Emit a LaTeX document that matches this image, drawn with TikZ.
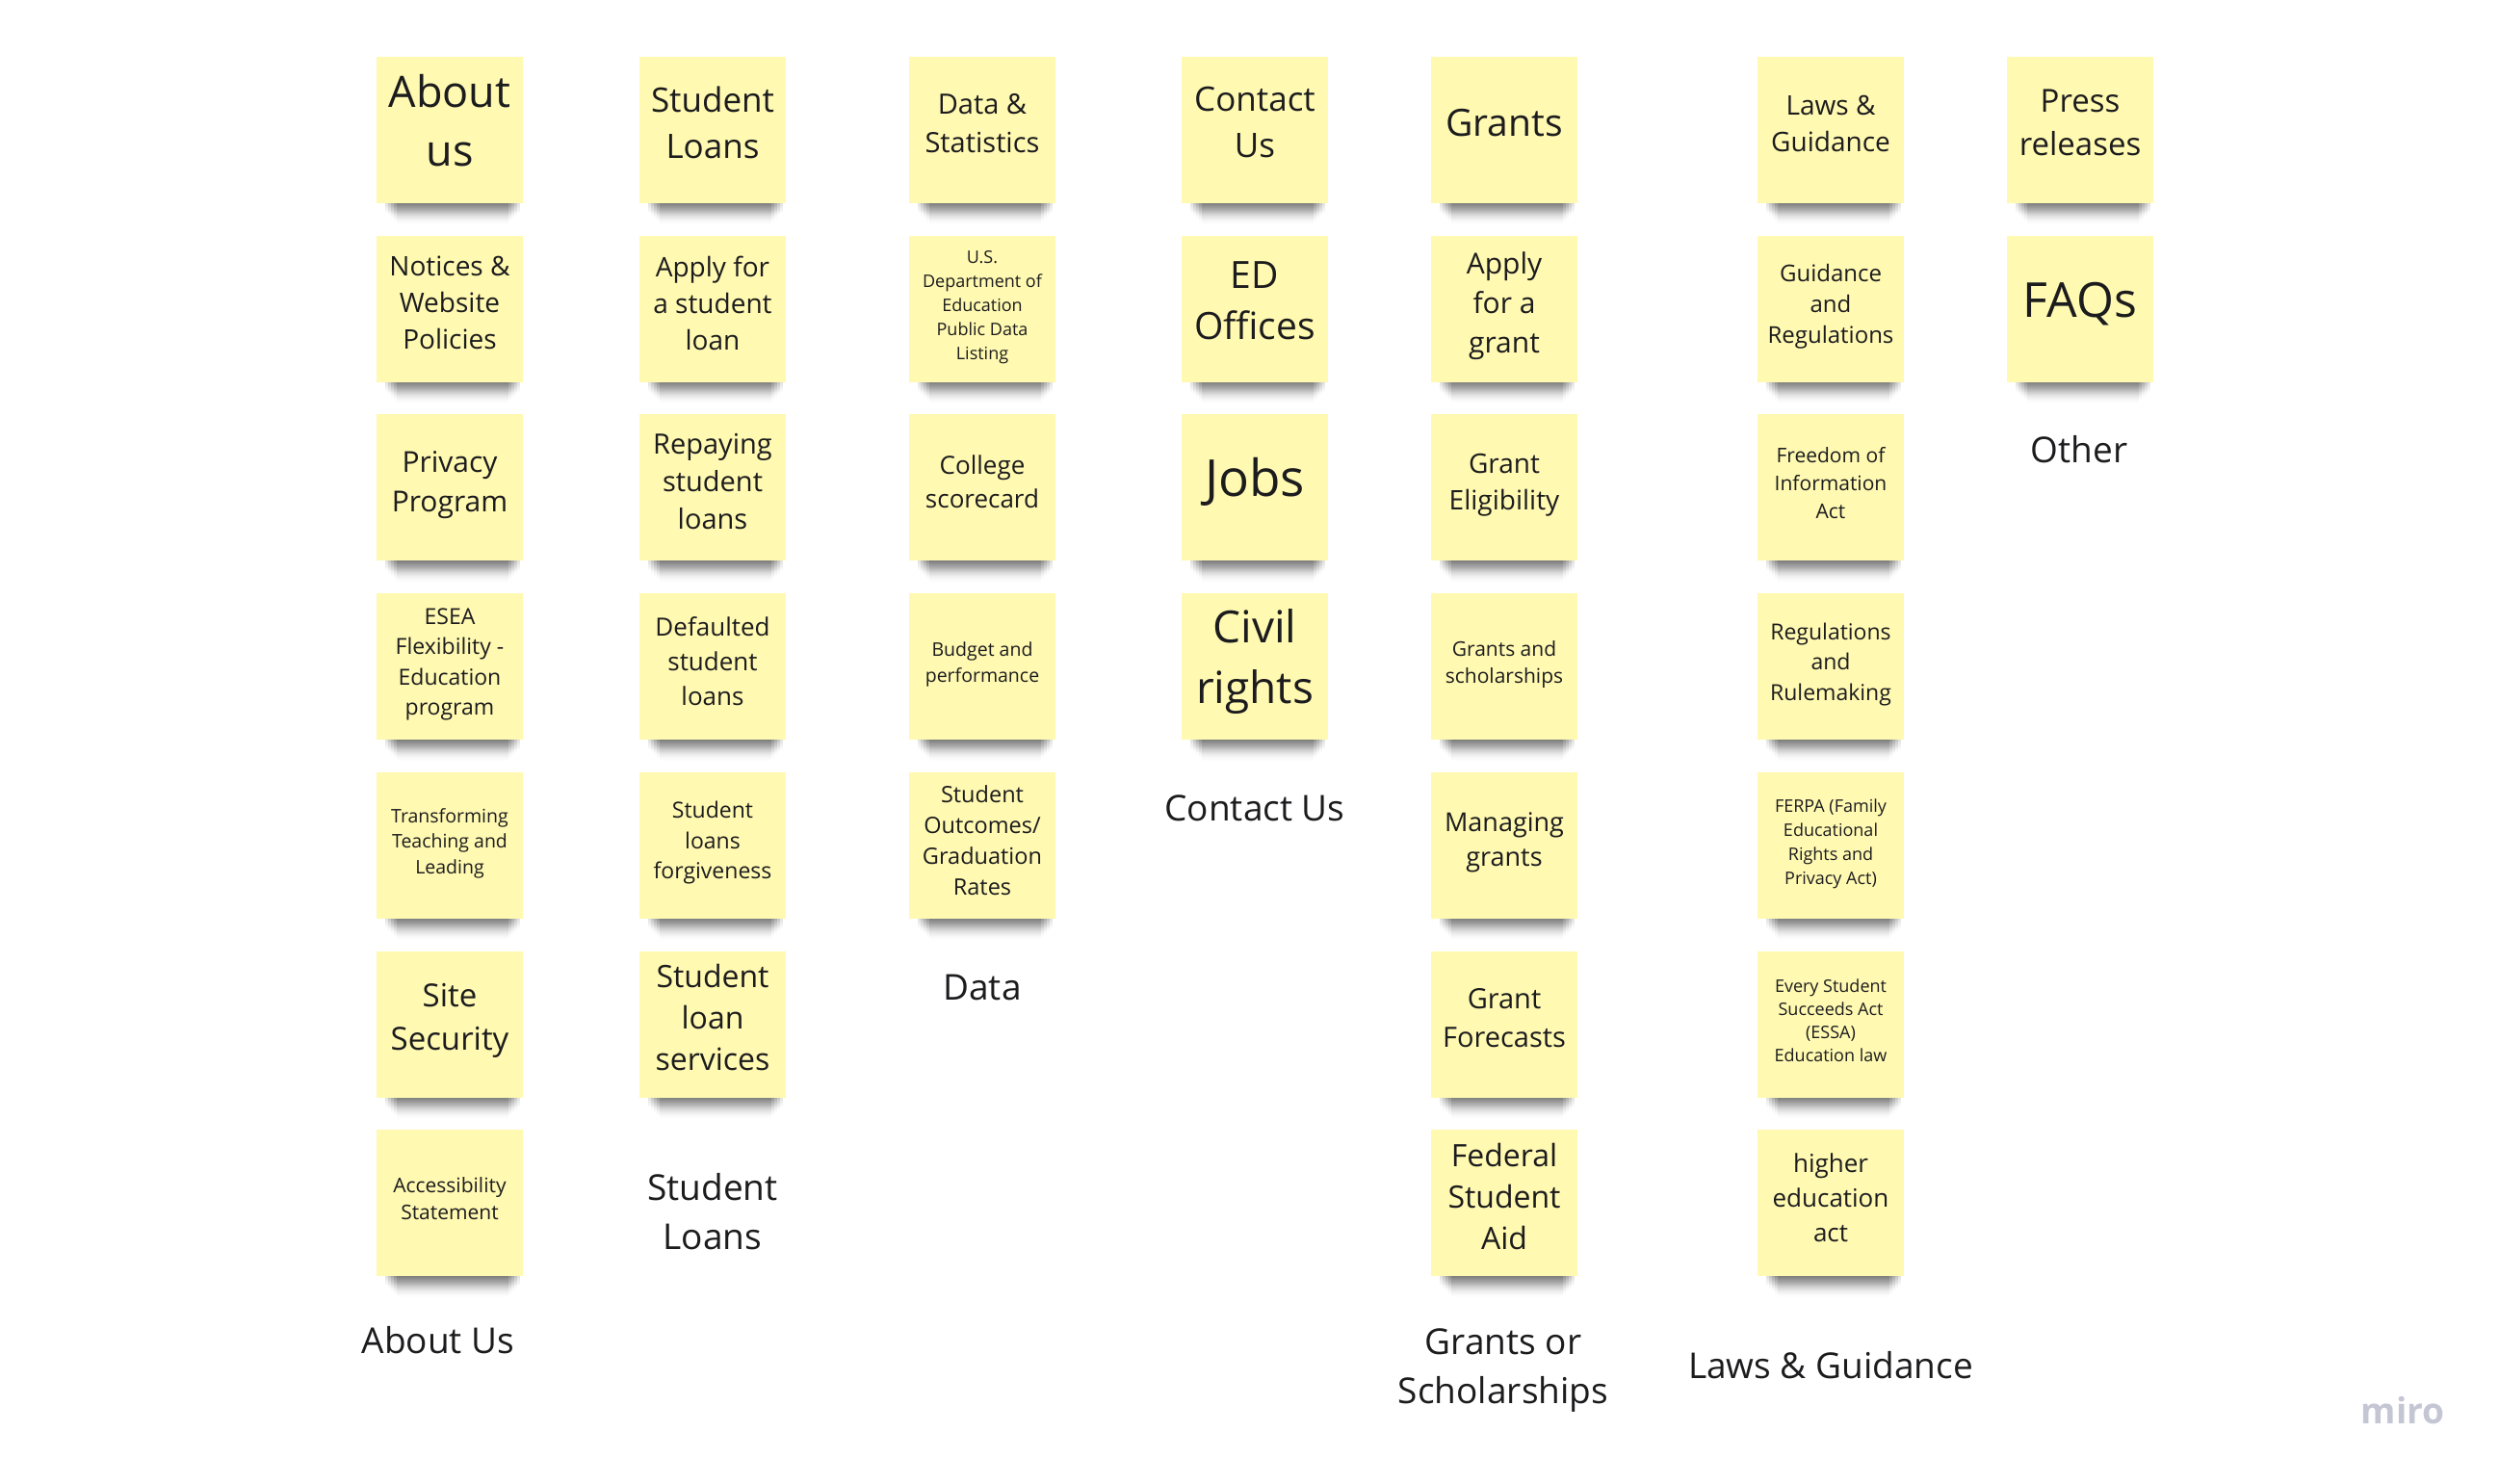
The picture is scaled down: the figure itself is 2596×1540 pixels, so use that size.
\documentclass[tikz,border=0pt]{standalone}
\usepackage{fontspec}
\setmainfont{Open Sans}
\usetikzlibrary{positioning, backgrounds, fadings}
\definecolor{stickyyellow}{RGB}{255, 249, 177}
\definecolor{stickytext}{RGB}{28, 28, 30}
\definecolor{mirogray}{RGB}{196, 198, 212}
\newcommand{\fsz}[2]{\fontsize{#1}{#2}\selectfont}
\tikzfading[name=shadowdown, top color=transparent!0, bottom color=transparent!100]
\tikzset{
  sticky/.style={fill=stickyyellow, text=stickytext, minimum width=152pt, minimum height=152pt, inner sep=0pt, align=center,
    execute at begin node={\rule{0pt}{0.8em}}, execute at end node={\rule[-0.45em]{0pt}{0pt}}},
  noteshadow/.style={fill=black, fill opacity=0.14, path fading=shadowdown},
  grouplabel/.style={text=stickytext, align=center, font=\fsz{37}{51}}
}

\begin{document}
\begin{tikzpicture}[x=1pt, y=-1pt]
  \path[use as bounding box] (0,0) rectangle (2596,1540);

  % About Us
  \node[sticky, font=\fsz{45}{61}] (about1) at (467,135) {About\\us};
  \node[sticky, font=\fsz{28}{38}, below=33.3pt of about1] (about2) {Notices \&\\Website\\Policies};
  \node[sticky, font=\fsz{30}{41}, below=33.3pt of about2] (about3) {Privacy\\Program};
  \node[sticky, font=\fsz{23}{31.5}, below=33.3pt of about3] (about4) {ESEA\\Flexibility -\\Education\\program};
  \node[sticky, font=\fsz{19.5}{26.5}, below=33.3pt of about4] (about5) {Transforming\\Teaching and\\Leading};
  \node[sticky, font=\fsz{33}{45}, below=33.3pt of about5] (about6) {Site\\Security};
  \node[sticky, font=\fsz{21}{28}, below=33.3pt of about6] (about7) {Accessibility\\Statement};
  \node[grouplabel] (aboutlabel) at (455,1392) {About Us};

  % Student Loans
  \node[sticky, font=\fsz{35}{48}] (loans1) at (740,135) {Student\\Loans};
  \node[sticky, font=\fsz{28}{38}, below=33.3pt of loans1] (loans2) {Apply for\\a student\\loan};
  \node[sticky, font=\fsz{29}{39}, below=33.3pt of loans2] (loans3) {Repaying\\student\\loans};
  \node[sticky, font=\fsz{26}{36}, below=33.3pt of loans3] (loans4) {Defaulted\\student\\loans};
  \node[sticky, font=\fsz{23}{31.5}, below=33.3pt of loans4] (loans5) {Student\\loans\\forgiveness};
  \node[sticky, font=\fsz{32}{43}, below=33.3pt of loans5] (loans6) {Student\\loan\\services};
  \node[grouplabel] (loanslabel) at (740,1258) {Student\\Loans};

  % Data
  \node[sticky, font=\fsz{29}{40}] (data1) at (1020,135) {Data \&\\Statistics};
  \node[sticky, font=\fsz{18}{25}, below=33.3pt of data1] (data2) {U.S.\\Department of\\Education\\Public Data\\Listing};
  \node[sticky, font=\fsz{26}{35}, below=33.3pt of data2] (data3) {College\\scorecard};
  \node[sticky, font=\fsz{19.5}{26.5}, below=33.3pt of data3] (data4) {Budget and\\performance};
  \node[sticky, font=\fsz{23.5}{32}, below=33.3pt of data4] (data5) {Student\\Outcomes/\\Graduation\\Rates};
  \node[grouplabel] (datalabel) at (1020,1025) {Data};

  % Contact Us
  \node[sticky, font=\fsz{35}{48}] (contact1) at (1303,135) {Contact\\Us};
  \node[sticky, font=\fsz{39}{53}, below=33.3pt of contact1] (contact2) {ED\\Offices};
  \node[sticky, font=\fsz{53}{70}, below=33.3pt of contact2] (contact3) {Jobs};
  \node[sticky, font=\fsz{46}{63}, below=33.3pt of contact3] (contact4) {Civil\\rights};
  \node[grouplabel] (contactlabel) at (1303,839) {Contact Us};

  % Grants or Scholarships
  \node[sticky, font=\fsz{39}{53}] (grants1) at (1562,135) {Grants};
  \node[sticky, font=\fsz{30}{41}, below=33.3pt of grants1] (grants2) {Apply\\for a\\grant};
  \node[sticky, font=\fsz{28}{38}, below=33.3pt of grants2] (grants3) {Grant\\Eligibility};
  \node[sticky, font=\fsz{21}{28}, below=33.3pt of grants3] (grants4) {Grants and\\scholarships};
  \node[sticky, font=\fsz{27}{36}, below=33.3pt of grants4] (grants5) {Managing\\grants};
  \node[sticky, font=\fsz{29}{40}, below=33.3pt of grants5] (grants6) {Grant\\Forecasts};
  \node[sticky, font=\fsz{32}{43}, below=33.3pt of grants6] (grants7) {Federal\\Student\\Aid};
  \node[grouplabel] (grantslabel) at (1561,1423) {Grants or\\Scholarships};

  % Laws & Guidance
  \node[sticky, font=\fsz{28}{38}] (laws1) at (1901,135) {Laws \&\\Guidance};
  \node[sticky, font=\fsz{24}{32}, below=33.3pt of laws1] (laws2) {Guidance\\and\\Regulations};
  \node[sticky, font=\fsz{21}{29}, below=33.3pt of laws2] (laws3) {Freedom of\\Information\\Act};
  \node[sticky, font=\fsz{23}{31.5}, below=33.3pt of laws3] (laws4) {Regulations\\and\\Rulemaking};
  \node[sticky, font=\fsz{18}{25}, below=33.3pt of laws4] (laws5) {FERPA (Family\\Educational\\Rights and\\Privacy Act)};
  \node[sticky, font=\fsz{18}{24}, below=33.3pt of laws5] (laws6) {Every Student\\Succeeds Act\\(ESSA)\\Education law};
  \node[sticky, font=\fsz{26}{36}, below=33.3pt of laws6] (laws7) {higher\\education\\act};
  \node[grouplabel] (lawslabel) at (1901,1418) {Laws \& Guidance};

  % Other
  \node[sticky, font=\fsz{33}{45}] (other1) at (2160,135) {Press\\releases};
  \node[sticky, font=\fsz{50}{68}, below=33.3pt of other1] (other2) {FAQs};
  \node[grouplabel] (otherlabel) at (2159,467) {Other};

  \node[text=mirogray, font=\fsz{37}{50}\bfseries] (miro) at (2495,1465) {miro};

  % shadows under the notes
  \begin{scope}[on background layer]
    \fill[white] (0,0) rectangle (2596,1540);
    \foreach \col/\num in {about/7, loans/6, data/5, contact/4, grants/7, laws/7, other/2}
      \foreach \row in {1,...,\num}
        \foreach \w/\h in {70/10, 67/13, 64/16, 61/19, 58/22}
          \fill[noteshadow] ([xshift=3-\w, yshift=2]\col\row.south) rectangle ([xshift=3+\w, yshift=-\h]\col\row.south);
  \end{scope}
\end{tikzpicture}
\end{document}
